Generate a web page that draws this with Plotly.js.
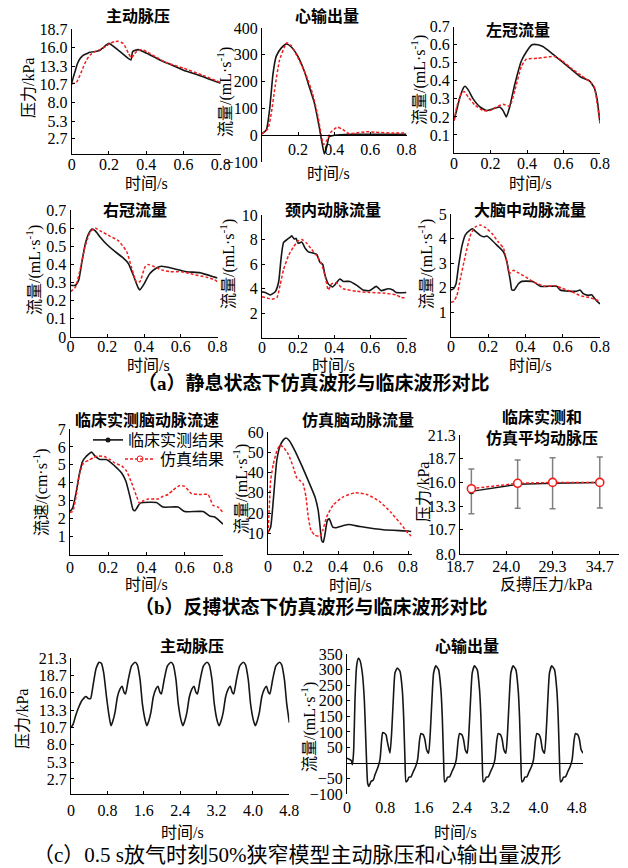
<!DOCTYPE html>
<html><head><meta charset="utf-8">
<script src="https://cdn.plot.ly/plotly-3.0.1.min.js"></script>
<style>html,body{margin:0;padding:0;background:#fff;}#chart{width:628px;height:868px;}</style>
</head><body><div id="chart"></div>
<script>
// ---------- DATA ----------
// (a) 主动脉压 kPa
const aoT_clin = [0,0.01,0.018,0.03,0.045,0.063,0.08,0.098,0.134,0.152,0.17,0.186,0.2,0.26,0.318,0.327,0.357,0.4,0.473,0.55,0.6,0.69,0.77,0.8];
const aoP_clin = [10.8,11.8,12.5,13.6,14.4,14.9,15.1,15.3,15.45,15.6,16.0,16.4,16.6,15.4,14.2,15.4,15.7,15.2,14.2,13.3,12.7,11.9,11.1,10.8];
const aoT_sim = [0,0.027,0.045,0.063,0.08,0.098,0.125,0.152,0.18,0.205,0.23,0.25,0.277,0.304,0.32,0.335,0.348,0.375,0.41,0.5,0.6,0.7,0.8];
const aoP_sim = [10.7,11.0,12.0,13.2,14.2,14.9,15.4,15.7,16.1,16.6,16.85,16.9,16.6,15.2,14.5,15.0,15.4,15.7,15.3,13.9,13.0,12.0,10.9];
// (a) 心输出量 mL/s
const coT_clin = [0,0.024,0.042,0.061,0.079,0.106,0.134,0.161,0.198,0.235,0.262,0.29,0.317,0.33,0.345,0.358,0.372,0.4,0.5,0.6,0.7,0.8];
const coQ_clin = [5,20,95,230,295,325,340,330,295,238,180,120,30,-20,-70,-45,-6,0,3,3,3,3];
const coT_sim = [0,0.033,0.051,0.07,0.097,0.125,0.138,0.161,0.198,0.244,0.28,0.31,0.327,0.341,0.358,0.382,0.418,0.446,0.481,0.521,0.576,0.631,0.72,0.8];
const coQ_sim = [5,25,80,170,280,330,345,335,290,225,155,70,5,-35,-20,12,30,22,6,8,13,11,8,8];
// (a) 左冠流量
const lcaT_clin = [0,0.015,0.033,0.051,0.06,0.078,0.105,0.142,0.178,0.215,0.251,0.269,0.287,0.305,0.333,0.369,0.396,0.427,0.46,0.487,0.533,0.587,0.642,0.696,0.742,0.769,0.784,0.8];
const lcaQ_clin = [0.18,0.24,0.31,0.36,0.37,0.35,0.30,0.255,0.235,0.245,0.255,0.235,0.2,0.255,0.38,0.51,0.56,0.6,0.6,0.59,0.555,0.51,0.465,0.42,0.4,0.36,0.3,0.165];
const lcaT_sim = [0,0.015,0.042,0.056,0.078,0.115,0.16,0.196,0.242,0.269,0.305,0.333,0.369,0.396,0.46,0.551,0.587,0.642,0.696,0.751,0.769,0.787,0.8];
const lcaQ_sim = [0.18,0.255,0.335,0.34,0.31,0.265,0.235,0.235,0.26,0.27,0.26,0.345,0.48,0.52,0.525,0.535,0.515,0.47,0.43,0.39,0.365,0.255,0.165];
// (a) 右冠流量
const rcaT_clin = [0,0.027,0.045,0.063,0.081,0.099,0.117,0.135,0.162,0.198,0.243,0.288,0.315,0.342,0.369,0.378,0.396,0.432,0.468,0.495,0.559,0.631,0.703,0.784,0.8];
const rcaQ_clin = [0.285,0.285,0.315,0.42,0.515,0.57,0.595,0.585,0.55,0.51,0.47,0.435,0.405,0.34,0.27,0.26,0.285,0.35,0.38,0.39,0.378,0.36,0.355,0.33,0.325];
const rcaT_sim = [0,0.027,0.054,0.081,0.108,0.135,0.162,0.216,0.261,0.306,0.333,0.36,0.378,0.405,0.423,0.45,0.495,0.541,0.604,0.667,0.739,0.784,0.8];
const rcaQ_sim = [0.25,0.275,0.38,0.505,0.58,0.6,0.585,0.555,0.53,0.47,0.38,0.3,0.305,0.385,0.4,0.39,0.37,0.36,0.36,0.345,0.33,0.315,0.305];
// (a) 颈内动脉流量
const icaT_clin = [0,0.018,0.046,0.073,0.092,0.105,0.119,0.138,0.156,0.165,0.178,0.189,0.2,0.22,0.239,0.257,0.284,0.303,0.321,0.336,0.349,0.367,0.39,0.413,0.431,0.45,0.486,0.523,0.56,0.596,0.633,0.66,0.697,0.725,0.743,0.8];
const icaQ_clin = [3.75,3.7,3.5,3.75,4.55,6.4,7.75,8.0,8.2,8.3,8.05,8.1,7.7,7.8,7.3,7.0,6.9,6.8,6.15,6.0,5.1,4.4,4.15,4.5,4.8,4.6,4.6,4.3,3.9,3.85,4.2,3.85,4.0,3.9,3.7,3.7];
const icaT_sim = [0,0.028,0.055,0.083,0.1,0.12,0.147,0.174,0.2,0.22,0.248,0.275,0.303,0.33,0.35,0.367,0.385,0.41,0.45,0.523,0.596,0.67,0.743,0.77,0.8];
const icaQ_sim = [3.35,3.25,3.15,3.3,4.3,5.6,6.7,7.4,7.9,8.0,7.7,7.2,6.7,6.0,5.0,3.9,4.4,4.5,4.0,3.8,3.7,3.65,3.5,3.3,3.25];
// (a) 大脑中动脉流量
const mcaT_clin = [0,0.014,0.027,0.041,0.059,0.077,0.104,0.116,0.13,0.157,0.175,0.193,0.21,0.246,0.282,0.3,0.318,0.327,0.34,0.362,0.38,0.434,0.45,0.48,0.523,0.568,0.586,0.63,0.675,0.693,0.71,0.737,0.755,0.78,0.8];
const mcaQ_clin = [1.9,1.95,2.15,2.9,3.7,4.15,4.35,4.4,4.3,4.13,4.07,4.1,4.0,3.73,3.45,3.05,2.3,1.9,1.9,2.15,2.25,2.25,2.2,2.05,2.05,2.05,1.9,1.85,1.85,1.9,1.75,1.68,1.7,1.47,1.33];
const mcaT_sim = [0,0.014,0.032,0.05,0.077,0.104,0.13,0.157,0.184,0.22,0.255,0.282,0.3,0.313,0.336,0.354,0.4,0.45,0.505,0.56,0.595,0.648,0.7,0.737,0.773,0.8];
const mcaQ_sim = [1.4,1.43,1.68,2.35,3.3,4.13,4.47,4.55,4.45,4.2,3.85,3.6,3.05,2.56,2.7,2.63,2.43,2.2,2.05,2.07,1.97,1.83,1.65,1.6,1.52,1.43];
// (b) 临床实测脑动脉流速 cm/s
const velT_clin = [0,0.014,0.031,0.049,0.066,0.083,0.104,0.113,0.13,0.157,0.19,0.217,0.243,0.27,0.292,0.313,0.33,0.34,0.365,0.383,0.452,0.487,0.565,0.6,0.696,0.73,0.757,0.8];
const velV_clin = [2.4,2.6,3.4,4.5,5.2,5.45,5.65,5.72,5.5,5.3,5.3,5.1,4.85,4.55,4.1,3.25,2.5,2.45,2.85,2.9,2.9,2.65,2.65,2.4,2.4,2.15,2.1,1.7];
const velT_sim = [0,0.014,0.031,0.049,0.07,0.096,0.122,0.148,0.183,0.209,0.235,0.27,0.296,0.322,0.348,0.365,0.383,0.409,0.461,0.487,0.513,0.539,0.574,0.6,0.635,0.678,0.722,0.748,0.774,0.8];
const velV_sim = [2.35,2.4,3.2,4.45,5.1,5.25,5.4,5.5,5.45,5.3,5.1,4.95,4.65,4.0,3.25,2.85,3.0,3.1,3.1,3.25,3.35,3.6,3.85,3.8,3.4,3.35,3.35,2.75,2.65,2.35];
// (b) 仿真脑动脉流量 mL/s
const cbfT_clin = [0,0.015,0.03,0.05,0.069,0.087,0.103,0.122,0.154,0.193,0.23,0.269,0.287,0.297,0.307,0.316,0.326,0.339,0.35,0.37,0.389,0.411,0.459,0.526,0.659,0.8,0.82];
const cbfQ_clin = [10.5,13,26,45.8,53.2,56,57,55.7,50.7,43.4,36,27.8,21.2,13.8,6.4,5.6,9.7,16.3,17.1,13,12.7,13.3,14.3,13.3,11.7,11.1,10.9];
const cbfT_sim = [0,0.008,0.015,0.03,0.05,0.069,0.087,0.116,0.145,0.164,0.183,0.2,0.217,0.23,0.246,0.269,0.297,0.313,0.335,0.373,0.43,0.5,0.57,0.64,0.7,0.76,0.8,0.82];
const cbfQ_sim = [10,24,36,44,50.5,53.5,52.5,49,42.5,37.5,36,34.5,28,18,11.4,9,8.5,11.4,18,24,28,30,29,25.5,20.5,14.5,10,8.5];
// (b) 平均动脉压
const mapX = [20.0,25.3,29.3,34.7];
const mapClin = [15.0,15.8,15.9,16.0];
const mapSim = [15.3,15.9,16.0,16.0];
const mapErr = [2.5,2.7,2.85,2.85];
// (c) 主动脉压 (0–4.8 s)
const aoCT = [0,0.05,0.1,0.16,0.24,0.33,0.38,0.43,0.48,0.55,0.62,0.67,0.72,0.78,0.84,0.879,
 0.919,0.969,1.019,1.079,1.124,1.164,1.199,1.259,1.329,1.409,1.459,1.519,1.569,1.629,1.668,
 1.708,1.758,1.808,1.868,1.913,1.953,1.988,2.048,2.118,2.198,2.248,2.308,2.358,2.418,2.46,
 2.5,2.55,2.6,2.66,2.705,2.745,2.78,2.84,2.91,2.99,3.04,3.1,3.15,3.21,3.258,
 3.298,3.348,3.398,3.458,3.503,3.543,3.578,3.638,3.708,3.788,3.838,3.898,3.948,4.008,4.053,
 4.093,4.143,4.193,4.253,4.298,4.338,4.373,4.433,4.503,4.583,4.633,4.693,4.743,4.8];
const aoCP = [10.6,11.2,12.4,13.6,14.8,15.4,15.1,15.1,16.9,19.7,20.7,20.5,19.0,15.4,12.3,10.9,
 11.6,13.0,15.3,16.6,17.0,16.1,15.8,18.0,20.1,20.7,20.3,18.0,14.3,11.8,10.9,
 11.6,13.0,15.3,16.6,17.0,16.1,15.8,18.0,20.1,20.7,20.3,18.0,14.3,11.8,10.9,
 11.6,13.0,15.3,16.6,17.0,16.1,15.8,18.0,20.1,20.7,20.3,18.0,14.3,11.8,10.9,
 11.6,13.0,15.3,16.6,17.0,16.1,15.8,18.0,20.1,20.7,20.3,18.0,14.3,11.8,10.9,
 11.6,13.0,15.3,16.6,17.0,16.1,15.8,18.0,20.1,20.7,20.3,18.0,14.3,11.4];
// (c) 心输出量 (0–4.93 s)
const coCT = [0,0.05,0.09,0.11,0.125,0.14,0.167,0.2,0.237,0.27,0.32,0.362,0.39,0.41,0.431,0.459,0.5,0.55,0.585,0.64,0.689,0.724,0.745,0.78,0.814,0.849,0.898,
 0.932,0.967,1.002,1.05,1.106,1.155,1.183,1.211,1.232,1.267,1.294,1.336,1.385,1.434,1.475,1.517,1.545,1.594,1.628,1.663,1.705,
 1.739,1.774,1.809,1.857,1.913,1.962,1.99,2.018,2.039,2.074,2.101,2.143,2.192,2.241,2.282,2.324,2.352,2.401,2.435,2.47,2.512,
 2.546,2.581,2.616,2.664,2.72,2.769,2.797,2.825,2.846,2.881,2.908,2.95,2.999,3.048,3.089,3.131,3.159,3.208,3.242,3.277,3.319,
 3.353,3.388,3.423,3.471,3.527,3.576,3.604,3.632,3.653,3.688,3.715,3.757,3.806,3.855,3.896,3.938,3.966,4.015,4.049,4.084,4.126,
 4.16,4.195,4.23,4.278,4.334,4.383,4.411,4.439,4.46,4.495,4.522,4.564,4.613,4.662,4.703,4.745,4.773,4.822,4.856,4.891,4.93];
const coCQ = [16,12,8,-5,10,43,203,310,336,330,289,203,86,0,-64,-75,-59,-54,-37,-16,11,75,98,96,91,64,32,
 96,203,289,305,295,235,150,11,-60,-55,-45,-44,-27,-11,11,75,95,91,75,43,32,
 96,203,289,312,300,235,150,11,-60,-55,-45,-44,-27,-11,11,75,95,91,75,43,32,
 96,203,289,312,300,235,150,11,-60,-55,-45,-44,-27,-11,11,75,95,91,75,43,32,
 96,203,289,312,300,235,150,11,-60,-55,-45,-44,-27,-11,11,75,95,91,75,43,32,
 96,203,289,312,300,235,150,11,-60,-55,-45,-44,-27,-11,11,75,95,91,75,43,32];

// tick labels
const t08Vals = [0,0.2,0.4,0.6,0.8], t08Text = ['0','0.2','0.4','0.6','0.8'];
const t08NoZeroVals = [0.2,0.4,0.6,0.8], t08NoZeroText = ['0.2','0.4','0.6','0.8'];
const kPaVals = [2.7,5.3,8.0,10.7,13.3,16.0,18.7], kPaText = ['2.7','5.3','8.0','10.7','13.3','16.0','18.7'];
const kPaCVals = [2.7,5.3,8.0,10.7,13.3,16.0,18.7,21.3], kPaCText = ['2.7','5.3','8.0','10.7','13.3','16.0','18.7','21.3'];
const coVals = [-100,0,100,200,300,400], coText = ['−100','0','100','200','300','400'];
const lcaVals = [0.1,0.2,0.3,0.4,0.5,0.6,0.7], lcaText = ['0.1','0.2','0.3','0.4','0.5','0.6','0.7'];
const rcaVals = [0,0.1,0.2,0.3,0.4,0.5,0.6,0.7], rcaText = ['0','0.1','0.2','0.3','0.4','0.5','0.6','0.7'];
const icaVals = [2,4,6,8,10], icaText = ['2','4','6','8','10'];
const mcaVals = [1,2,3,4,5], mcaText = ['1','2','3','4','5'];
const velVals = [1,2,3,4,5,6,7], velText = ['1','2','3','4','5','6','7'];
const cbfVals = [10,20,30,40,50,60], cbfText = ['10','20','30','40','50','60'];
const mapXVals = [18.7,24.0,29.3,34.7], mapXText = ['18.7','24.0','29.3','34.7'];
const mapYVals = [8.0,10.7,13.3,16.0,18.7,21.3], mapYText = ['8.0','10.7','13.3','16.0','18.7','21.3'];
const tCVals = [0,0.8,1.6,2.4,3.2,4.0,4.8], tCText = ['0','0.8','1.6','2.4','3.2','4.0','4.8'];
const coCVals = [-100,-50,50,100,150,200,250,300,350], coCText = ['−100','−50','50','100','150','200','250','300','350'];

// ---------- LAYOUT HELPERS ----------
const W = 628, H = 868;
const SER = 'Liberation Serif, Noto Sans CJK SC';
const CJK = 'Noto Sans CJK SC';
const BLK = '#161616', RED = '#f21d1d';
function dx(a, b) { return [a / W, b / W]; }
function dy(top, bot) { return [1 - bot / H, 1 - top / H]; }
function axis(domain, range, vals, text, anchor, extra) {
  return Object.assign({
    domain, range, tickmode: 'array', tickvals: vals, ticktext: text, anchor,
    showline: true, linecolor: '#000', linewidth: 1, ticks: 'inside', ticklen: 3,
    tickcolor: '#000', tickwidth: 1, showgrid: false, zeroline: false, fixedrange: true,
    automargin: false, tickfont: { family: SER, size: 16, color: '#000' }
  }, extra || {});
}
function clin(x, y, n) {
  return { x, y, xaxis: 'x' + n, yaxis: 'y' + n, type: 'scatter', mode: 'lines',
    line: { color: BLK, width: 1.6, shape: 'spline', smoothing: 0.5 }, showlegend: false, hoverinfo: 'skip' };
}
function sim(x, y, n) {
  return { x, y, xaxis: 'x' + n, yaxis: 'y' + n, type: 'scatter', mode: 'lines',
    line: { color: RED, width: 1.5, dash: '3px,2px', shape: 'spline', smoothing: 0.5 }, showlegend: false, hoverinfo: 'skip' };
}

const traces = [
  clin(aoT_clin, aoP_clin, ''), sim(aoT_sim, aoP_sim, ''),
  clin(coT_clin, coQ_clin, 2), sim(coT_sim, coQ_sim, 2),
  clin(lcaT_clin, lcaQ_clin, 3), sim(lcaT_sim, lcaQ_sim, 3),
  clin(rcaT_clin, rcaQ_clin, 4), sim(rcaT_sim, rcaQ_sim, 4),
  clin(icaT_clin, icaQ_clin, 5), sim(icaT_sim, icaQ_sim, 5),
  clin(mcaT_clin, mcaQ_clin, 6), sim(mcaT_sim, mcaQ_sim, 6),
  clin(velT_clin, velV_clin, 7), sim(velT_sim, velV_sim, 7),
  clin(cbfT_clin, cbfQ_clin, 8), sim(cbfT_sim, cbfQ_sim, 8),
  { x: mapX, y: mapClin, xaxis: 'x9', yaxis: 'y9', type: 'scatter', mode: 'lines+markers', showlegend: false,
    line: { color: BLK, width: 1.5 }, marker: { color: BLK, size: 6 },
    error_y: { type: 'data', array: mapErr, visible: true, color: '#808080', thickness: 1.5, width: 3 } },
  { x: mapX, y: mapSim, xaxis: 'x9', yaxis: 'y9', type: 'scatter', mode: 'lines+markers', showlegend: false,
    line: { color: RED, width: 1.5, dash: '3px,2px' }, marker: { symbol: 'circle', color: '#fff', size: 8, line: { color: RED, width: 1.6 } } },
  clin(aoCT, aoCP, 10), clin(coCT, coCQ, 11),
  // legend entries
  { x: [null], y: [null], xaxis: 'x7', yaxis: 'y7', type: 'scatter', mode: 'lines+markers', name: '临床实测结果',
    line: { color: BLK, width: 1.6 }, marker: { color: BLK, size: 5 }, legend: 'legend', showlegend: true },
  { x: [null], y: [null], xaxis: 'x7', yaxis: 'y7', type: 'scatter', mode: 'lines+markers', name: '仿真结果',
    line: { color: RED, width: 1.5, dash: '3px,2px' }, marker: { symbol: 'circle-open', color: RED, size: 6 }, legend: 'legend2', showlegend: true }
];
traces[0].xaxis = 'x'; traces[0].yaxis = 'y'; traces[1].xaxis = 'x'; traces[1].yaxis = 'y';

// A2: x axis sits on y = 0
const y2dom = dy(28, 162), y2rng = [-100, 400];
const x2pos = y2dom[0] + (0 - y2rng[0]) / (y2rng[1] - y2rng[0]) * (y2dom[1] - y2dom[0]);

const FT = { family: CJK, size: 16, color: '#000', weight: 700 };
const FA = { family: SER, size: 16, color: '#000' };
const FC = { family: SER, size: 19, color: '#000', weight: 700 };
function ann(text, x, y, font, extra) {
  return Object.assign({ text, x: x / W, y: 1 - y / H, xref: 'paper', yref: 'paper', xanchor: 'center', yanchor: 'middle', showarrow: false, font }, extra || {});
}
const ROT = { textangle: -90 };
const flow = '流量/(mL·s<sup>-1</sup>)';
const annotations = [
  ann('主动脉压', 138, 15, FT), ann('心输出量', 327, 15, FT), ann('左冠流量', 518, 29, FT),
  ann('右冠流量', 135, 209, FT), ann('颈内动脉流量', 333, 209, FT), ann('大脑中动脉流量', 530, 209, FT),
  ann('临床实测脑动脉流速', 147, 419, FT), ann('仿真脑动脉流量', 358, 419, FT),
  ann('临床实测和<br>仿真平均动脉压', 542, 426.5, FT),
  ann('主动脉压', 192, 645, FT), ann('心输出量', 467, 645, FT),
  ann('压力/kPa', 28, 88, FA, ROT), ann(flow, 225, 92, FA, ROT), ann(flow, 418, 80, FA, ROT),
  ann(flow, 33, 270, FA, ROT), ann(flow, 227, 264, FA, ROT), ann(flow, 425, 264, FA, ROT),
  ann('流速/(cm·s<sup>-1</sup>)', 40, 492, FA, ROT), ann(flow, 240, 489, FA, ROT), ann('压力/kPa', 423, 492, FA, ROT),
  ann('压力/kPa', 22, 719, FA, ROT), ann(flow, 308, 727, FA, ROT),
  ann('时间/s', 146, 184, FA), ann('时间/s', 328, 174, FA), ann('时间/s', 530, 184, FA),
  ann('时间/s', 148, 365, FA), ann('时间/s', 333, 365, FA), ann('时间/s', 530, 365, FA),
  ann('时间/s', 146, 584, FA), ann('时间/s', 350, 585, FA), ann('反搏压力/kPa', 546, 584, FA),
  ann('时间/s', 182, 832, FA), ann('时间/s', 455, 832, FA),
  ann('（a）静息状态下仿真波形与临床波形对比', 314, 383, FC),
  ann('（b）反搏状态下仿真波形与临床波形对比', 311, 607, FC),
  ann('（c）0.5 s放气时刻50%狭窄模型主动脉压和心输出量波形', 297, 855, Object.assign({}, FC, { size: 21, weight: 400 }))
];

const UP = { ticklabelstandoff: -4 };
const layout = {
  width: W, height: H, margin: { l: 0, r: 0, t: 0, b: 0, pad: 0 },
  paper_bgcolor: '#fff', plot_bgcolor: 'rgba(0,0,0,0)', showlegend: true, annotations,
  legend: { x: 88 / W, y: 1 - 440 / H, xanchor: 'left', yanchor: 'middle', bgcolor: 'rgba(0,0,0,0)', borderwidth: 0,
    font: { family: CJK, size: 16, color: '#000' }, itemwidth: 30, tracegroupgap: 0 },
  legend2: { x: 120 / W, y: 1 - 459 / H, xanchor: 'left', yanchor: 'middle', bgcolor: 'rgba(0,0,0,0)', borderwidth: 0,
    font: { family: CJK, size: 16, color: '#000' }, itemwidth: 30, tracegroupgap: 0 },
  xaxis: axis(dx(71.7, 220.7), [0, 0.8], t08Vals, t08Text, 'y', UP),
  yaxis: axis(dy(29, 154), [0.5, 18.7], kPaVals, kPaText, 'x'),
  xaxis2: axis(dx(262, 406.5), [0, 0.8], t08NoZeroVals, t08NoZeroText, 'free', { position: x2pos }),
  yaxis2: axis(y2dom, y2rng, coVals, coText, 'x2'),
  xaxis3: axis(dx(454, 600), [0, 0.8], t08Vals, t08Text, 'y3', UP),
  yaxis3: axis(dy(26.7, 153), [0, 0.7], lcaVals, lcaText, 'x3'),
  xaxis4: axis(dx(70.5, 217.5), [0, 0.8], t08Vals, t08Text, 'y4', { ticklabelstandoff: -5 }),
  yaxis4: axis(dy(210, 337), [0, 0.7], rcaVals, rcaText, 'x4'),
  xaxis5: axis(dx(262, 406.5), [0, 0.8], t08Vals, t08Text, 'y5', { ticklabelstandoff: -5 }),
  yaxis5: axis(dy(215, 338), [0, 10], icaVals, icaText, 'x5'),
  xaxis6: axis(dx(451, 600), [0, 0.8], t08Vals, t08Text, 'y6', { ticklabelstandoff: -5 }),
  yaxis6: axis(dy(214, 336.5), [0, 5], mcaVals, mcaText, 'x6'),
  xaxis7: axis(dx(70, 223), [0, 0.8], t08Vals, t08Text, 'y7', { ticklabelstandoff: -2 }),
  yaxis7: axis(dy(429, 554.6), [0, 7], velVals, velText, 'x7'),
  xaxis8: axis(dx(268, 411.5), [0, 0.82], t08Vals, t08Text, 'y8', { ticklabelstandoff: -2 }),
  yaxis8: axis(dy(432, 553.5), [0, 60], cbfVals, cbfText, 'x8'),
  xaxis9: axis(dx(460, 619), [18.7, 36.9], mapXVals, mapXText, 'y9', { ticklabelstandoff: -2 }),
  yaxis9: axis(dy(435, 554), [8, 21.3], mapYVals, mapYText, 'x9'),
  xaxis10: axis(dx(71, 289.3), [0, 4.8], tCVals, tCText, 'y10', { ticklabelstandoff: 2 }),
  yaxis10: axis(dy(658.3, 794), [0.38, 21.3], kPaCVals, kPaCText, 'x10'),
  xaxis11: axis(dx(347, 583), [0, 4.93], tCVals, tCText, 'y11', { showline: false, ticks: '', ticklabelstandoff: 2 }),
  yaxis11: axis(dy(654, 794.3), [-100, 350], coCVals, coCText, 'x11', { zeroline: true, zerolinecolor: '#000', zerolinewidth: 1 })
};

Plotly.newPlot('chart', traces, layout, { displayModeBar: false, staticPlot: true });
</script>
</body></html>
